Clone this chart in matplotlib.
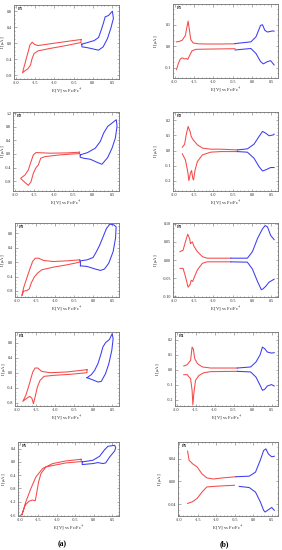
import numpy as np
import matplotlib
matplotlib.use("Agg")
import matplotlib.pyplot as plt
from matplotlib.ticker import MultipleLocator, FormatStrFormatter

plt.rcParams['font.family'] = ['Liberation Serif', 'DejaVu Serif']
plt.rcParams['mathtext.fontset'] = 'stix'
plt.rcParams['axes.unicode_minus'] = False

# ---------------- data (column a: CV loops) ----------------
a1_red_x = [-0.308, -0.694, -1.124, -1.424, -1.510, -1.579, -1.639, -1.682, -1.742, -1.811, -1.828,
            -1.768, -1.682, -1.622, -1.579, -1.527, -1.424, -1.124, -0.694, -0.308]
a1_red_y = [0.092, 0.042, -0.017, -0.059, -0.034, 0.025, -0.050, -0.218, -0.427, -0.678, -0.745,
            -0.695, -0.637, -0.553, -0.385, -0.260, -0.193, -0.134, -0.059, 0.017]
a1_blue_x = [-0.290, -0.136, 0.036, 0.148, 0.216, 0.277, 0.320, 0.405, 0.509, 0.534, 0.466, 0.380,
             0.268, 0.148, -0.007, -0.162, -0.282]
a1_blue_y = [-0.025, 0.017, 0.067, 0.142, 0.327, 0.511, 0.662, 0.695, 0.804, 0.620, 0.369, 0.117,
             -0.092, -0.176, -0.142, -0.109, -0.092]

a2_red_x = [-0.336, -0.664, -1.095, -1.457, -1.526, -1.586, -1.655, -1.741, -1.853, -1.784, -1.655,
            -1.586, -1.526, -1.457, -1.397, -1.336, -1.224, -0.836, -0.336]
a2_red_y = [0.049, 0.029, 0.020, 0.039, -0.029, -0.226, -0.472, -0.619, -0.718, -0.796, -0.924,
            -0.816, -0.570, -0.403, -0.324, -0.128, -0.079, -0.029, 0.010]
a2_blue_x = [-0.319, -0.129, 0.069, 0.198, 0.284, 0.388, 0.500, 0.612, 0.629, 0.586, 0.500, 0.388,
             0.241, 0.112, -0.060, -0.233, -0.319]
a2_blue_y = [-0.029, 0.039, 0.167, 0.364, 0.610, 0.806, 0.905, 1.003, 0.806, 0.462, 0.167, -0.108,
             -0.305, -0.246, -0.157, -0.128, -0.098]

a3_red_x = [-0.351, -0.684, -1.035, -1.298, -1.430, -1.518, -1.588, -1.667, -1.754, -1.825, -1.868,
            -1.825, -1.737, -1.675, -1.623, -1.544, -1.456, -1.342, -1.035, -0.684, -0.351]
a3_red_y = [0.064, 0.037, 0.018, 0.046, 0.110, 0.110, 0.018, -0.211, -0.487, -0.717, -0.929,
            -0.809, -0.791, -0.745, -0.579, -0.414, -0.303, -0.211, -0.138, -0.074, 0.0]
a3_blue_x = [-0.333, -0.158, 0.061, 0.193, 0.298, 0.412, 0.526, 0.588, 0.605, 0.544, 0.439, 0.351,
             0.263, 0.175, 0.088, 0.0, -0.158, -0.333]
a3_blue_y = [-0.101, -0.120, -0.193, -0.230, -0.193, -0.028, 0.294, 0.662, 0.984, 1.039, 1.057,
             0.938, 0.708, 0.478, 0.294, 0.129, 0.064, 0.037]

a4_red_x = [-0.160, -0.698, -1.132, -1.349, -1.453, -1.523, -1.583, -1.635, -1.696, -1.766, -1.844,
            -1.757, -1.670, -1.609, -1.566, -1.523, -1.462, -1.392, -1.288, -1.045, -0.611, -0.160]
a4_red_y = [0.080, 0.018, 0.0, 0.035, 0.124, 0.124, 0.018, -0.159, -0.380, -0.601, -0.760,
            -0.690, -0.628, -0.672, -0.822, -0.645, -0.380, -0.203, -0.097, -0.071, -0.044, 0.0]
a4_blue_x = [-0.160, -0.047, 0.040, 0.127, 0.196, 0.257, 0.326, 0.431, 0.500, 0.526, 0.491, 0.413,
             0.326, 0.214, 0.127, 0.023, -0.090]
a4_blue_y = [-0.133, -0.053, 0.062, 0.239, 0.460, 0.681, 0.796, 0.884, 1.034, 0.902, 0.592, 0.239,
             -0.027, -0.230, -0.248, -0.203, -0.159]

a5_red_x = [-0.342, -0.750, -1.112, -1.384, -1.565, -1.701, -1.837, -1.946,
            -1.855, -1.746, -1.656, -1.583, -1.547, -1.493, -1.429, -1.293, -1.067, -0.750, -0.342]
a5_red_y = [0.08, 0.03, -0.05, -0.20, -0.45, -0.80, -1.20, -1.60,
            -1.30, -1.18, -1.15, -1.17, -0.95, -0.60, -0.35, -0.15, -0.10, -0.03, 0.01]
a5_blue_x = [-0.315, -0.025, 0.156, 0.292, 0.382, 0.563, 0.591, 0.563, 0.428, 0.319, 0.246, 0.111,
             -0.025, -0.315]
a5_blue_y = [0.0, 0.05, 0.17, 0.37, 0.47, 0.50, 0.43, 0.33, 0.15, -0.03, -0.05, -0.02, -0.05, -0.08]

# ---------------- data (column b: DPV forward / reverse) ----------------
b1_red_up_x = [-1.95, -1.88, -1.80, -1.72, -1.68, -1.65, -1.62, -1.58, -1.52, -1.40, -1.2, -0.8, -0.44]
b1_red_up_y = [0.02, 0.022, 0.028, 0.05, 0.09, 0.117, 0.08, 0.03, 0.015, 0.011, 0.01, 0.01, 0.011]
b1_red_dn_x = [-1.95, -1.90, -1.85, -1.80, -1.74, -1.70, -1.66, -1.60, -1.55, -1.45, -1.2, -0.8, -0.44]
b1_red_dn_y = [-0.11, -0.08, -0.06, -0.055, -0.06, -0.058, -0.062, -0.04, -0.022, -0.015, -0.014, -0.013, -0.012]
b1_blue_up_x = [-0.44, -0.03, 0.10, 0.22, 0.27, 0.33, 0.40, 0.53, 0.57]
b1_blue_up_y = [0.012, 0.02, 0.043, 0.097, 0.10, 0.074, 0.066, 0.071, 0.07]
b1_blue_dn_x = [-0.44, -0.03, 0.10, 0.22, 0.29, 0.40, 0.48, 0.57]
b1_blue_dn_y = [-0.018, -0.011, -0.034, -0.072, -0.083, -0.072, -0.068, -0.088]

b2_red_up_x = [-1.80, -1.74, -1.70, -1.65, -1.60, -1.57, -1.52, -1.41, -1.28, -1.07, -0.81, -0.38]
b2_red_up_y = [0.022, 0.042, 0.104, 0.16, 0.127, 0.093, 0.071, 0.038, 0.016, 0.009, 0.009, 0.004]
b2_red_dn_x = [-1.80, -1.72, -1.66, -1.63, -1.59, -1.56, -1.53, -1.51, -1.47, -1.41, -1.28, -1.07, -0.81, -0.38]
b2_red_dn_y = [-0.022, -0.062, -0.14, -0.20, -0.151, -0.133, -0.184, -0.196, -0.129, -0.073, -0.029,
               -0.011, -0.007, -0.007]
b2_blue_up_x = [-0.38, -0.12, 0.05, 0.18, 0.27, 0.35, 0.44, 0.55, 0.57]
b2_blue_up_y = [0.004, 0.011, 0.042, 0.093, 0.127, 0.116, 0.098, 0.104, 0.109]
b2_blue_dn_x = [-0.38, -0.12, 0.05, 0.18, 0.27, 0.35, 0.48, 0.57]
b2_blue_dn_y = [-0.007, -0.011, -0.051, -0.107, -0.136, -0.129, -0.113, -0.113]

b3_red_up_x = [-1.86, -1.78, -1.72, -1.66, -1.61, -1.59, -1.54, -1.50, -1.41, -1.28, -1.16, -0.55]
b3_red_up_y = [0.023, 0.027, 0.05, 0.071, 0.059, 0.045, 0.05, 0.038, 0.023, 0.009, 0.005, 0.005]
b3_red_dn_x = [-1.86, -1.78, -1.72, -1.65, -1.60, -1.57, -1.53, -1.50, -1.41, -1.28, -1.16, -0.55]
b3_red_dn_y = [-0.023, -0.023, -0.045, -0.075, -0.068, -0.056, -0.059, -0.05, -0.027, -0.009, -0.005, -0.005]
b3_blue_up_x = [-0.55, -0.12, 0.01, 0.14, 0.27, 0.34, 0.40, 0.48, 0.57]
b3_blue_up_y = [0.005, 0.005, 0.023, 0.059, 0.086, 0.095, 0.091, 0.068, 0.056]
b3_blue_dn_x = [-0.55, -0.12, 0.01, 0.14, 0.24, 0.29, 0.35, 0.44, 0.57]
b3_blue_dn_y = [-0.005, -0.006, -0.025, -0.059, -0.082, -0.079, -0.073, -0.061, -0.053]

b4_red_up_x = [-1.81, -1.72, -1.63, -1.59, -1.56, -1.52, -1.45, -1.32, -1.10, -0.40]
b4_red_up_y = [0.024, 0.033, 0.062, 0.150, 0.139, 0.073, 0.040, 0.018, 0.011, 0.011]
b4_red_dn_x = [-1.81, -1.72, -1.63, -1.59, -1.57, -1.54, -1.50, -1.41, -1.28, -1.10, -0.40]
b4_red_dn_y = [-0.033, -0.033, -0.060, -0.137, -0.232, -0.148, -0.071, -0.038, -0.020, -0.013, -0.011]
b4_blue_up_x = [-0.40, -0.05, 0.09, 0.20, 0.26, 0.32, 0.39, 0.50, 0.57]
b4_blue_up_y = [0.011, 0.018, 0.051, 0.099, 0.150, 0.139, 0.117, 0.110, 0.113]
b4_blue_dn_x = [-0.40, -0.05, 0.09, 0.20, 0.26, 0.32, 0.39, 0.50, 0.57]
b4_blue_dn_y = [-0.011, -0.015, -0.049, -0.104, -0.137, -0.130, -0.108, -0.099, -0.108]

b5_red_up_x = [-1.78, -1.74, -1.65, -1.52, -1.39, -1.26, -1.08, -0.82, -0.47]
b5_red_up_y = [0.053, 0.037, 0.031, 0.025, 0.013, 0.006, 0.004, 0.006, 0.008]
b5_red_dn_x = [-1.78, -1.65, -1.52, -1.39, -1.26, -1.08, -0.82, -0.51]
b5_red_dn_y = [-0.039, -0.036, -0.030, -0.019, -0.010, -0.009, -0.008, -0.007]
b5_blue_up_x = [-0.47, -0.11, 0.06, 0.19, 0.28, 0.34, 0.41, 0.50, 0.57]
b5_blue_up_y = [0.008, 0.009, 0.016, 0.037, 0.054, 0.057, 0.048, 0.043, 0.044]
b5_blue_dn_x = [-0.38, -0.11, 0.06, 0.19, 0.28, 0.32, 0.41, 0.50, 0.57]
b5_blue_dn_y = [-0.009, -0.011, -0.019, -0.036, -0.051, -0.054, -0.050, -0.046, -0.051]

panel_names = ["P1", "P2", "P3", "P4", "P5"]
a_ylims = [(-0.9, 0.96), (-1.09, 1.23), (-0.97, 1.09), (-0.884, 1.08), (-1.63, 0.6)]
a_ysteps = [0.4, 0.4, 0.4, 0.4, 0.4]
b_ylims = [(-0.149, 0.197), (-0.269, 0.256), (-0.102, 0.102), (-0.241, 0.25), (-0.061, 0.069)]
b_ysteps = [0.1, 0.1, 0.05, 0.1, 0.04]
b_yfmt = ["%.1f", "%.1f", "%.2f", "%.1f", "%.2f"]

a_data = [(a1_red_x, a1_red_y, a1_blue_x, a1_blue_y),
          (a2_red_x, a2_red_y, a2_blue_x, a2_blue_y),
          (a3_red_x, a3_red_y, a3_blue_x, a3_blue_y),
          (a4_red_x, a4_red_y, a4_blue_x, a4_blue_y),
          (a5_red_x, a5_red_y, a5_blue_x, a5_blue_y)]
b_data = [((b1_red_up_x, b1_red_up_y), (b1_red_dn_x, b1_red_dn_y), (b1_blue_up_x, b1_blue_up_y), (b1_blue_dn_x, b1_blue_dn_y)),
          ((b2_red_up_x, b2_red_up_y), (b2_red_dn_x, b2_red_dn_y), (b2_blue_up_x, b2_blue_up_y), (b2_blue_dn_x, b2_blue_dn_y)),
          ((b3_red_up_x, b3_red_up_y), (b3_red_dn_x, b3_red_dn_y), (b3_blue_up_x, b3_blue_up_y), (b3_blue_dn_x, b3_blue_dn_y)),
          ((b4_red_up_x, b4_red_up_y), (b4_red_dn_x, b4_red_dn_y), (b4_blue_up_x, b4_blue_up_y), (b4_blue_dn_x, b4_blue_dn_y)),
          ((b5_red_up_x, b5_red_up_y), (b5_red_dn_x, b5_red_dn_y), (b5_blue_up_x, b5_blue_up_y), (b5_blue_dn_x, b5_blue_dn_y))]

RED = '#f44a4a'
BLUE = '#3c3cf2'
FRAME = '#707070'

W, H = 282, 550
fig = plt.figure(figsize=(W / 100, H / 100), dpi=100)

# pixel boxes (x0, x1, y_top, y_bottom) and y-label centre x (pixels)
a_boxes = [(14, 119, 5, 79), (13, 119, 112, 191), (15, 119, 223, 297), (15, 119, 332, 406), (18, 119, 442, 516)]
a_ylab_px = [7, 7, 7, 7.5, 7.5]
b_boxes = [(173, 278, 4, 78), (173, 278, 112, 191), (173, 278, 223, 297), (175, 278, 332, 406), (178, 278, 442, 516)]
b_ylab_px = [160, 160, 160, 162, 164]


def make_ax(box):
    x0, x1, yt, yb = box
    return fig.add_axes([x0 / W, 1 - yb / H, (x1 - x0) / W, (yb - yt) / H])


def style(ax, box, ylab_px, name, ylim, ystep, yfmt, xlim):
    ax.set_xlim(*xlim)
    ax.set_ylim(*ylim)
    ax.xaxis.set_major_locator(MultipleLocator(0.5))
    ax.xaxis.set_minor_locator(MultipleLocator(0.1))
    ax.yaxis.set_major_locator(MultipleLocator(ystep))
    ax.yaxis.set_minor_locator(MultipleLocator(ystep / 4))
    ax.xaxis.set_major_formatter(FormatStrFormatter("%.1f"))
    ax.yaxis.set_major_formatter(FormatStrFormatter(yfmt))
    ax.tick_params(which='both', direction='in', top=True, right=True, colors=FRAME,
                   labelcolor='#222222', labelsize=3.0, width=0.4, pad=1.2)
    ax.tick_params(which='major', length=1.8)
    ax.tick_params(which='minor', length=0.9)
    for s in ax.spines.values():
        s.set_color(FRAME)
        s.set_linewidth(0.6)
    ax.set_xlabel(r"E [V] vs Fc/Fc$^{+}$", fontsize=3.3, labelpad=1.5, color='#222222')
    ax.set_ylabel(r"I [$\mu$A]", fontsize=3.3, color='#222222')
    x0, x1 = box[0], box[1]
    ax.yaxis.set_label_coords((ylab_px - x0) / (x1 - x0), 0.5)
    ax.text(0.035, 0.97, name, transform=ax.transAxes, fontsize=3.3, fontweight='bold',
            ha='left', va='top', color='#222222')


for i in range(5):
    ax = make_ax(a_boxes[i])
    rx, ry, bx, by = a_data[i]
    ax.plot(list(rx) + [rx[0]], list(ry) + [ry[0]], color=RED, lw=0.75)
    ax.plot(list(bx) + [bx[0]], list(by) + [by[0]], color=BLUE, lw=0.75)
    style(ax, a_boxes[i], a_ylab_px[i], panel_names[i], a_ylims[i], a_ysteps[i], "%.1f", (-2.05, 0.68))

for i in range(5):
    ax = make_ax(b_boxes[i])
    (rux, ruy), (rdx, rdy), (bux, buy), (bdx, bdy) = b_data[i]
    ax.plot(rux, ruy, color=RED, lw=0.75)
    ax.plot(rdx, rdy, color=RED, lw=0.75)
    ax.plot(bux, buy, color=BLUE, lw=0.75)
    ax.plot(bdx, bdy, color=BLUE, lw=0.75)
    style(ax, b_boxes[i], b_ylab_px[i], panel_names[i], b_ylims[i], b_ysteps[i], b_yfmt[i], (-2.04, 0.67))

fig.text(62 / W, 1 - 544 / H, "(a)", fontsize=5.5, fontweight='bold', ha='center', va='center')
fig.text(224 / W, 1 - 544 / H, "(b)", fontsize=5.5, fontweight='bold', ha='center', va='center')

fig.savefig("out.png", dpi=100, facecolor='white')
